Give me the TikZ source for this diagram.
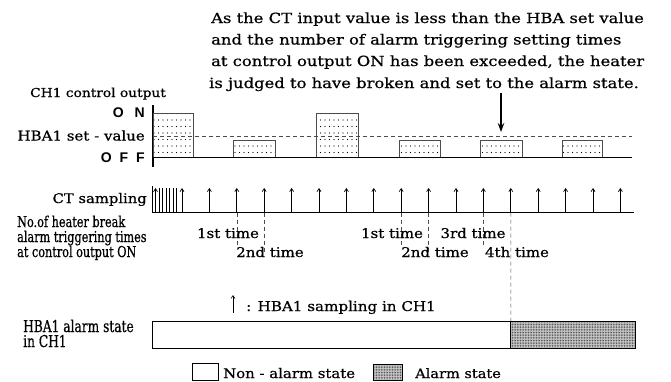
\documentclass[tikz,border=0pt]{standalone}
\usepackage{fontspec}
\setmainfont{DejaVu Serif}
\newfontfamily\wfont{DejaVu Serif}[FakeStretch=1.12,FakeBold=0.6]
\newfontfamily\annfont{DejaVu Serif}[FakeStretch=1.17,FakeBold=0.6]
\newfontfamily\nfont{DejaVu Serif}[FakeStretch=0.75,FakeBold=0.6]
\newfontfamily\onofffont{Liberation Sans}
\usetikzlibrary{arrows.meta,patterns}
\pgfdeclarepatternformonly{sparsedots}{\pgfqpoint{-1pt}{-1pt}}{\pgfqpoint{5.5pt}{7.5pt}}{\pgfqpoint{4.5pt}{6.5pt}}{\pgfpathcircle{\pgfqpoint{1pt}{1pt}}{0.55pt}\pgfusepath{fill}}
\pgfdeclarepatternformonly{densedots}{\pgfqpoint{-1pt}{-1pt}}{\pgfqpoint{2.5pt}{2.5pt}}{\pgfqpoint{1.6pt}{1.6pt}}{\pgfpathcircle{\pgfqpoint{0.5pt}{0.5pt}}{0.5pt}\pgfusepath{fill}}
\begin{document}
\begin{tikzpicture}[x=1pt,y=-1pt,
  txt/.style={font=\wfont\fontsize{#1}{#1}\selectfont, inner sep=0pt},
  txt/.default=13.3,
  ann/.style={font=\annfont\fontsize{14}{14}\selectfont, inner sep=0pt, anchor=base west},
  ntxt/.style={font=\nfont\fontsize{#1}{#1}\selectfont, inner sep=0pt, anchor=base west},
  ntxt/.default=15,
  onoff/.style={font=\onofffont\bfseries\fontsize{14}{14}\selectfont, inner sep=0pt},
  pulse/.style={draw=black!70, line width=0.9pt, pattern=sparsedots},
  axisline/.style={line width=1.1pt},
  sample/.style={line width=0.7pt, -{Straight Barb[length=3pt,width=4pt]}},
  guide/.style={line width=0.6pt, dash pattern=on 4pt off 3pt, black!70},
  alarmfill/.style={fill=black!20, postaction={pattern=densedots, pattern color=black!75}}]
\useasboundingbox (0,0) rectangle (671,381);

% annotation
\node[ann] (n1) at (211,23) {As the CT input value is less than the HBA set value};
\node[ann] (n2) at (211,44.5) {and the number of alarm triggering setting times};
\node[ann] (n3) at (211,66) {at control output ON has been exceeded, the heater};
\node[ann] (n4) at (209,88) {is judged to have broken and set to the alarm state.};
\coordinate (arrtop) at (501,93);
\coordinate (arrtip) at (501,132);
\draw[line width=1.3pt, -{Stealth[length=9pt,width=6.5pt]}] (arrtop) -- (arrtip);

% control output row
\node[txt=12.3, anchor=base west] (cho) at (30,97) {CH1 control output};
\node[onoff, anchor=base east] (on) at (145,117.5) {O\hspace{11pt}N};
\node[txt=13.4, anchor=base east] (hba) at (145,140.5) {HBA1 set - value};
\node[onoff, anchor=base east] (off) at (145,162.5) {O\hspace{8pt}F\hspace{8pt}F};
\draw[axisline] (153,105) -- (153,167);
\draw[guide] (153,136) -- (632,136);
\draw[pulse] (153,113) rectangle (193,157.7);
\draw[pulse] (233,140.7) rectangle (275,157.7);
\draw[pulse] (316,113) rectangle (358,157.7);
\draw[pulse] (399,140.7) rectangle (440,157.7);
\draw[pulse] (480,140.7) rectangle (522,157.7);
\draw[pulse] (562,140.7) rectangle (602,157.7);
\draw[axisline] (153,157.7) -- (632,157.7);

% CT sampling row
\node[txt=13.2, anchor=base east] (cts) at (147,203) {CT sampling};
\draw[line width=0.9pt] (152,186) -- (152,212.7);
\draw[axisline] (152,212.7) -- (634,212.7);
\draw[sample] (155.5,212.7) -- (155.5,188);
\foreach \x in {159,162.5,166,169.5,173,176.5}
  \draw[line width=0.6pt] (\x,212.7) -- (\x,188);
\foreach \k in {0,...,16}{
  \coordinate (s\k) at ({182+27.4*\k},212.7);
  \draw[sample] (s\k) -- ++(0,-24.7);
}
% guides
\draw[guide] (s2) -- ++(0,33);
\draw[guide] (s3) -- ++(0,40);
\draw[guide] (s8) -- ++(0,33);
\draw[guide] (s9) -- ++(0,40);
\draw[guide] (s11) -- ++(0,33);
\coordinate (alarmstart) at (510.8,321);
\draw[guide] (s12) -- (alarmstart);

\node[ntxt] (nh1) at (17,227) {No.of heater break};
\node[ntxt] (nh2) at (17,242) {alarm triggering times};
\node[ntxt] (nh3) at (17,257) {at control output ON};

\node[txt=13.4, anchor=base] (t1a) at (228,238) {1st time};
\node[txt=13.4, anchor=base] (t2a) at (270,257) {2nd time};
\node[txt=13.4, anchor=base] (t1b) at (392,238) {1st time};
\node[txt=13.4, anchor=base] (t2b) at (435,257) {2nd time};
\node[txt=13.4, anchor=base] (t3b) at (473,238) {3rd time};
\node[txt=13.4, anchor=base] (t4b) at (517,257) {4th time};

% sampling legend
\coordinate (lgbot) at (233,313);
\coordinate (lgtop) at (233,295);
\draw[line width=0.6pt, -{Straight Barb[length=3pt,width=4pt]}] (lgbot) -- (lgtop);
\node[txt=13.5, anchor=base west] (lgt) at (246,311) {: HBA1 sampling in CH1};

% alarm state row
\node[ntxt=16.3] (as1) at (23,332) {HBA1 alarm state};
\node[ntxt=16.3] (as2) at (23,347) {in CH1};
\fill[alarmfill] (510.8,321) rectangle (635,348);
\draw[line width=0.9pt] (152,321) rectangle (635,348);
\draw[line width=0.9pt] (510.8,321) -- (510.8,348);

% legend
\draw[line width=0.9pt] (192,363) rectangle (218,380.5);
\node[txt=13.3, anchor=base west] (lgn) at (223,378) {Non - alarm state};
\fill[alarmfill] (373,364) rectangle (402,380.5);
\draw[line width=0.9pt] (373,364) rectangle (402,380.5);
\node[txt=13, anchor=base west] (lga) at (415,378) {Alarm state};
\end{tikzpicture}
\end{document}
